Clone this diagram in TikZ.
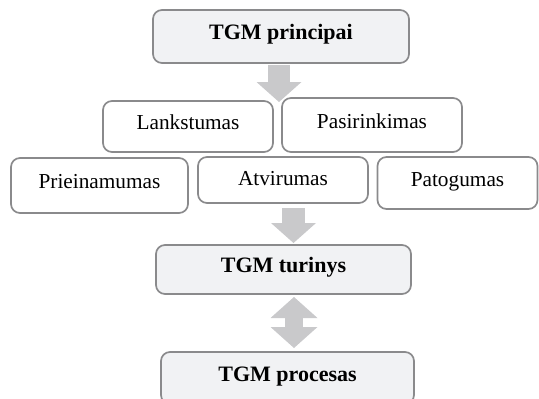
\documentclass[tikz,border=0pt]{standalone}
\usepackage{fontspec}
\setmainfont{Liberation Serif}
\usetikzlibrary{arrows.meta}
\definecolor{boxline}{HTML}{8A8A8C}
\definecolor{mainfill}{HTML}{F1F2F4}
\definecolor{arrowgray}{HTML}{C9C9CB}
\tikzset{
  box/.style={draw=boxline, line width=1.7pt, rounded corners=9pt, inner sep=0pt,
    font=\fontsize{21.3}{25}\selectfont, text height=0.72em, text depth=0.1em},
  mainbox/.style={box, fill=mainfill, font=\fontsize{22}{26}\selectfont\bfseries},
  subbox/.style={box, fill=white},
  flow/.style={draw=arrowgray, line width=#1,
    -{Triangle[width=45pt,length=20pt,line width=0pt]}},
  flow/.default=22pt,
  twoway/.style={draw=arrowgray, line width=18pt,
    {Triangle[width=47pt,length=21pt,line width=0pt]}-{Triangle[width=47pt,length=21pt,line width=0pt]}},
}
\begin{document}
\begin{tikzpicture}[x=1pt,y=-1pt]
\useasboundingbox (0,0) rectangle (539,399);

% block arrows (drawn first, so the boxes sit on top)
\coordinate (a1s) at (279,65);
\coordinate (a1e) at (279,102);
\coordinate (a2s) at (293.5,208);
\coordinate (a2e) at (293.5,243);
\coordinate (a3s) at (294,297);
\coordinate (a3e) at (294,348);
\draw[flow] (a1s) -- (a1e);
\draw[flow=23pt] (a2s) -- (a2e);
\draw[twoway] (a3s) -- (a3e);

% main boxes
\node[mainbox, minimum width=256pt, minimum height=53pt] (principai) at (281,36.5) {TGM principai};
\node[mainbox, minimum width=255pt, minimum height=49pt] (turinys) at (283.5,269.5) {TGM turinys};
\node[mainbox, minimum width=253pt, minimum height=52pt] (procesas) at (287.5,378) {TGM procesas};

% principle boxes, first row
\node[subbox, minimum width=170pt, minimum height=51pt] (lankstumas) at (188,126.5) {Lankstumas};
\node[subbox, minimum width=180pt, minimum height=54pt] (pasirinkimas) at (372,125) {Pasirinkimas};

% principle boxes, second row
\node[subbox, minimum width=177pt, minimum height=55pt] (prieinamumas) at (99.5,185.5) {Prieinamumas};
\node[subbox, minimum width=170pt, minimum height=46pt, text depth=0pt, text height=1.05em] (atvirumas) at (283,180) {Atvirumas};
\node[subbox, minimum width=160pt, minimum height=52pt] (patogumas) at (457.5,183) {Patogumas};
\end{tikzpicture}
\end{document}
